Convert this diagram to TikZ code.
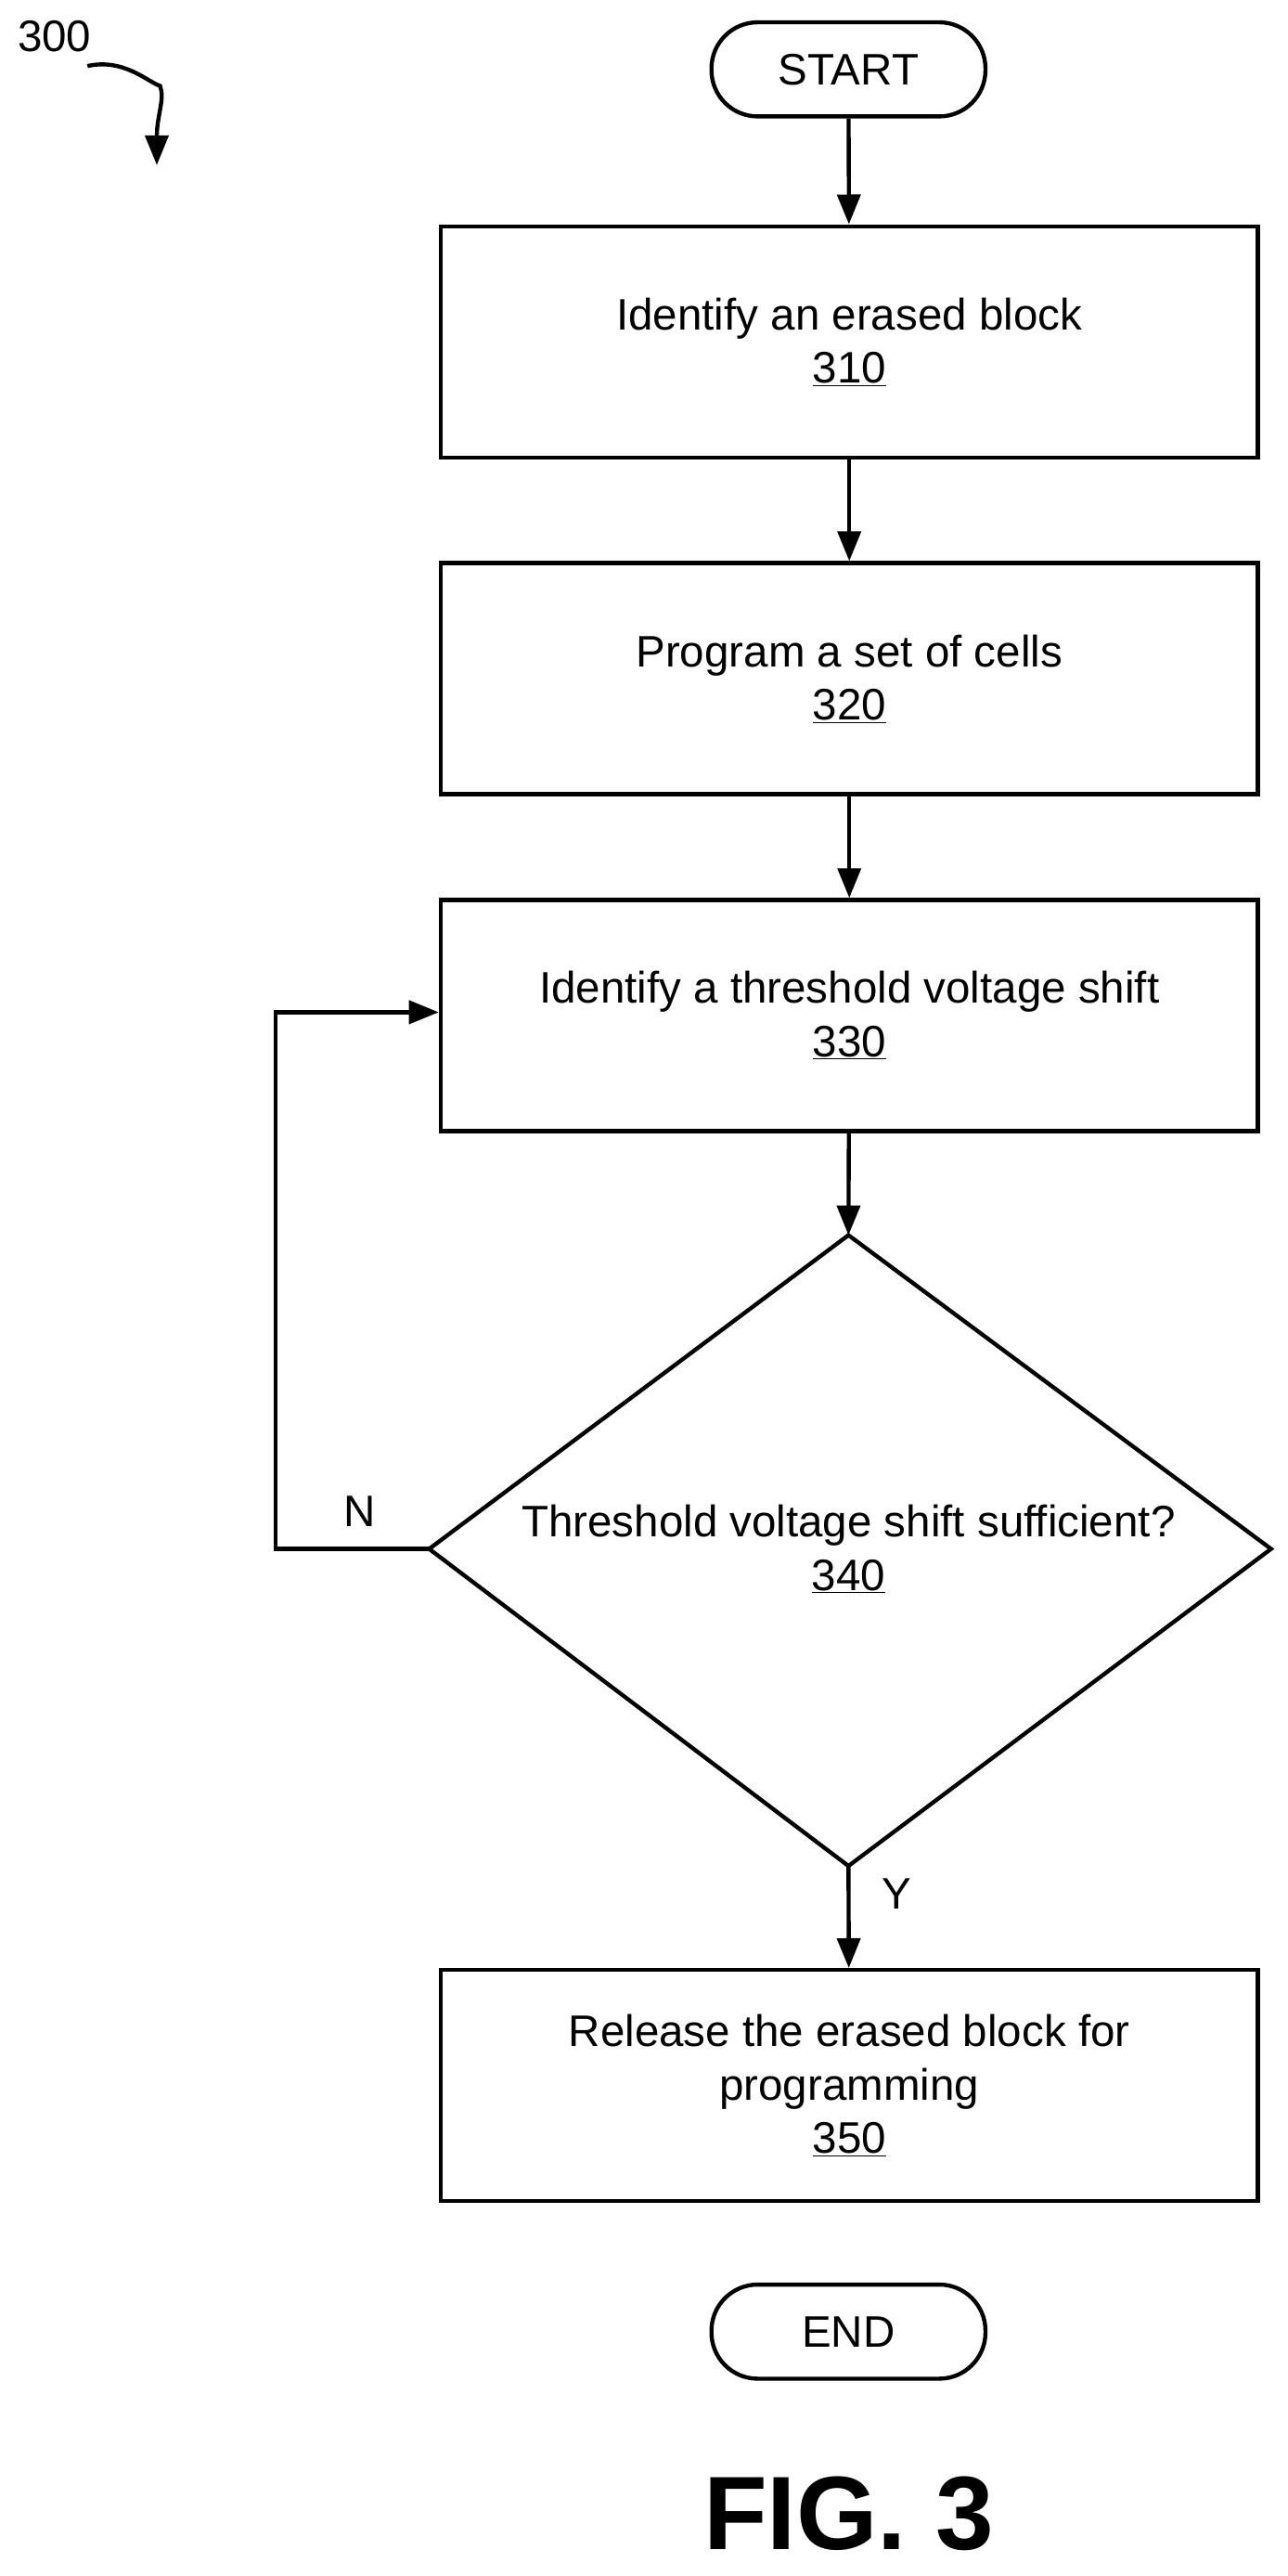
\documentclass[tikz,border=0pt]{standalone}
\usepackage{fontspec}
\setmainfont{Liberation Sans}
\usetikzlibrary{shapes.geometric,arrows.meta}
\begin{document}
\begin{tikzpicture}[x=0.5mm,y=-0.5mm,
  every node/.style={font=\fontsize{38}{46}\selectfont},
  box/.style={draw,line width=3.5pt,minimum width=247.5mm,minimum height=70mm,align=center,inner sep=0pt},
  term/.style={draw,line width=3.5pt,rounded corners=14mm,minimum width=83mm,minimum height=28.5mm},
  arr/.style={line width=3.5pt,-{Triangle[length=9mm,width=7mm]}},
  ln/.style={line width=3.5pt}]
\useasboundingbox (0,0) rectangle (780,1560);
\node[term] (start) at (514,42) {START};
\node[box] (b310) at (514.5,207) {Identify an erased block\\\underline{310}};
\node[box] (b320) at (514.5,411) {Program a set of cells\\\underline{320}};
\node[box] (b330) at (514.5,615) {Identify a threshold voltage shift\\\underline{330}};
\coordinate (dt) at (514,748); \coordinate (db) at (514,1130);
\coordinate (dl) at (260,938); \coordinate (dr) at (770,938);
\draw[ln,line join=miter] (dt)--(dr)--(db)--(dl)--cycle;
\node[align=center] (d340) at (514,938) {Threshold voltage shift sufficient?\\\underline{340}};
\node[box] (b350) at (514.5,1263) {Release the erased block for\\programming\\\underline{350}};
\node[term] (end) at (514,1412) {END};
\node[font=\fontsize{90}{96}\selectfont\bfseries] (fig) at (514,1522) {FIG. 3};
\node (l300) at (33,22) {300};
\node (nN) at (218,915) {N};
\node (nY) at (543,1147) {Y};
\draw[arr] (start)--(b310);
\draw[arr] (b310)--(b320);
\draw[arr] (b320)--(b330);
\draw[arr] (b330)--(dt);
\draw[arr] (db)--(b350);
\coordinate (c1) at (167,938); \coordinate (c2) at (167,613);
\draw[arr] (dl)--(c1)--(c2)--(b330.west|-c2);
\coordinate (s1) at (53,40); \coordinate (s2) at (95,100);
\draw[arr] (s1) .. controls (75,35) and (90,50) .. (97,52) .. controls (100,60) and (95,70) .. (s2);
\end{tikzpicture}
\end{document}
